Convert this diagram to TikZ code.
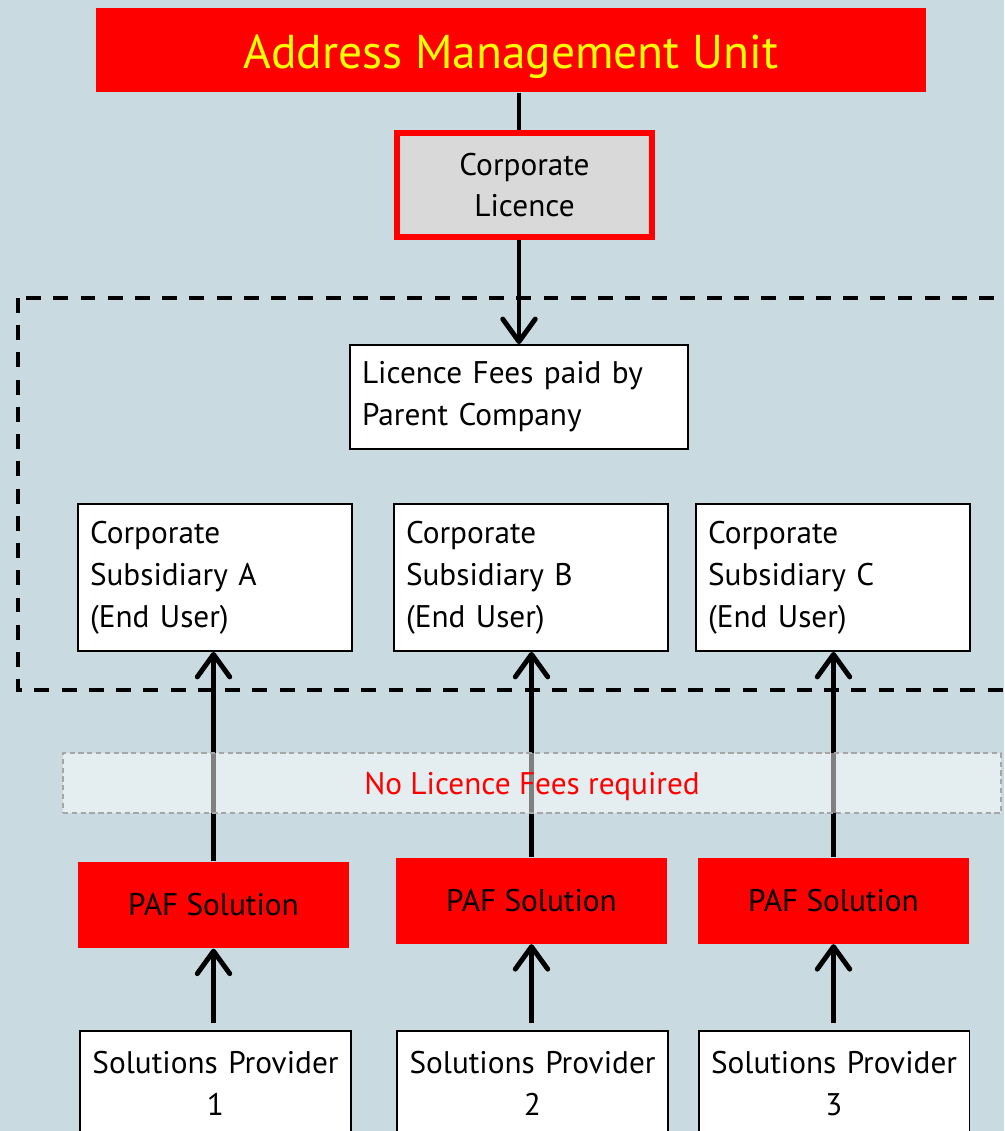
\documentclass[tikz,border=0pt]{standalone}
\usepackage{fontspec}
\setmainfont{PT Sans}
\usetikzlibrary{arrows.meta, positioning}
\definecolor{backdrop}{RGB}{201, 219, 224}
\definecolor{amured}{RGB}{255, 0, 0}
\definecolor{amuyellow}{RGB}{255, 255, 0}
\definecolor{licgrey}{RGB}{217, 217, 217}
\definecolor{bandline}{RGB}{166, 166, 166}

\begin{document}
\begin{tikzpicture}[x=0.02cm, y=-0.02cm, thick,
  body/.style={font=\fontsize{17.8pt}{23.8pt}\selectfont},
  plainbox/.style={body, draw=black, line width=1.1pt, fill=white, inner sep=0pt},
  leftbox/.style={plainbox, align=left, inner xsep=0.24cm},
  pafbox/.style={body, fill=amured, minimum width=5.42cm, minimum height=1.72cm},
  providerbox/.style={plainbox, align=center, anchor=north, minimum width=5.42cm, minimum height=2.1cm, text width=5.3cm},
  link/.style={line width=2.8pt, -{Straight Barb[length=4.5mm, width=6.5mm, round]}}]
  \clip (0, 0) rectangle (1004, 1131);
  \fill[backdrop] (0, 0) rectangle (1004, 1131);

  \node[fill=amured, text=amuyellow, minimum width=16.6cm, minimum height=1.68cm,
    text height=0.76cm, text depth=0pt,
    font=\fontsize{27pt}{32pt}\selectfont] (amu) at (511, 50) {Address Management Unit};
  \node[body, fill=licgrey, draw=amured, line width=3pt, align=center,
    minimum width=5.1cm, minimum height=2.08cm] (cl) at (524.5, 185) {Corporate\\Licence};

  \draw[black, line width=2.3pt, dash pattern=on 8.5pt off 7pt] (18, 298) rectangle (1040, 690);

  \node[leftbox, text width=6.28cm, minimum height=2.08cm] (fees) at (519, 397) {Licence Fees paid by\\Parent Company};

  \node[leftbox, text width=5.0cm, minimum height=2.94cm] (subA) at (215, 577.5) {Corporate\\Subsidiary A\\(End User)};
  \node[leftbox, text width=5.0cm, minimum height=2.94cm] (subB) at (531, 577.5) {Corporate\\Subsidiary B\\(End User)};
  \node[leftbox, text width=5.0cm, minimum height=2.94cm] (subC) at (833, 577.5) {Corporate\\Subsidiary C\\(End User)};

  \node[pafbox] (pafA) at (213.5, 905) {PAF Solution};
  \node[pafbox] (pafB) at (531.5, 900.5) {PAF Solution};
  \node[pafbox] (pafC) at (833.5, 900.5) {PAF Solution};

  \node[providerbox] (provA) at (215.5, 1030) {Solutions Provider\\1};
  \node[providerbox] (provB) at (532.5, 1030) {Solutions Provider\\2};
  \node[providerbox] (provC) at (834, 1030) {Solutions Provider\\3};

  \draw[line width=2.8pt] (amu.south -| fees.north) -- (cl.north -| fees.north);
  \draw[link] (cl.south -| fees.north) -- (fees.north);

  \foreach \col in {A, B, C} {
    \draw[link] (paf\col.north) -- (paf\col.north |- sub\col.south);
    \draw[link, shorten <=0.14cm] (prov\col.north -| paf\col.south) -- (paf\col.south);
  }

  \node[body, draw=bandline, line width=0.7pt, dash pattern=on 3pt off 2pt,
    fill=white, fill opacity=0.5, text opacity=1, text=amured, text depth=0pt,
    minimum width=18.76cm, minimum height=1.2cm] (band) at (532, 783) {No Licence Fees required};
\end{tikzpicture}
\end{document}
